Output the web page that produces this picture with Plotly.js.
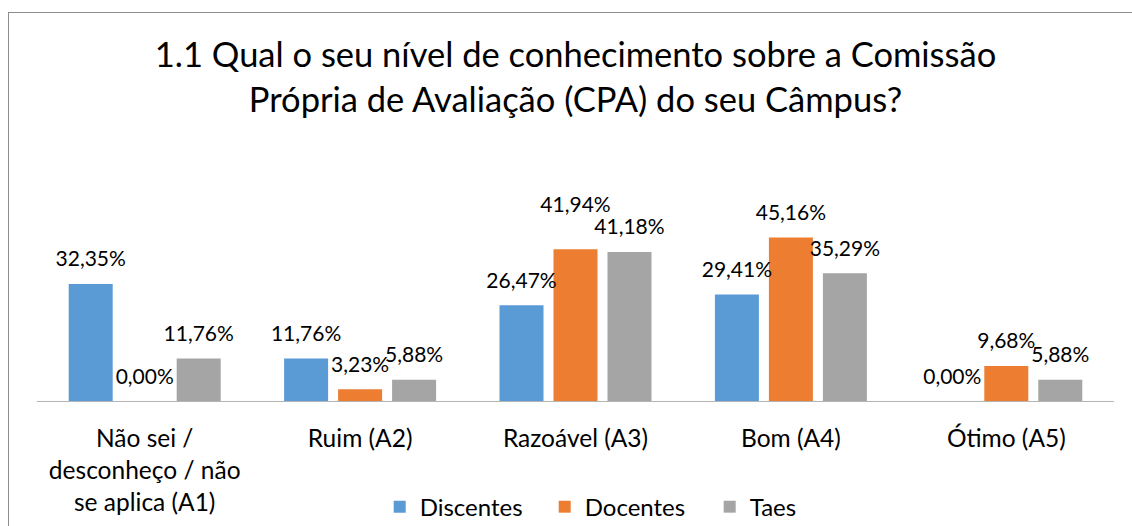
<!DOCTYPE html>
<html>
<head>
<meta charset="utf-8">
<script src="https://cdn.plot.ly/plotly-3.0.1.min.js"></script>
<style>
  html, body { margin: 0; padding: 0; background: #fff; }
  #wrap { position: relative; width: 1132px; height: 526px; overflow: hidden; }
  #chart { width: 1132px; height: 526px; }
  #frame { position: absolute; left: 8px; top: 12px; width: 1200px; height: 600px;
           border-left: 1px solid #8c8c8c; border-top: 1px solid #8c8c8c; pointer-events: none; }
</style>
</head>
<body>
<div id="wrap">
  <div id="chart"></div>
  <div id="frame"></div>
</div>
<script>
const categories = ["Não sei /<br>desconheço / não<br>se aplica (A1)", "Ruim (A2)", "Razoável (A3)", "Bom (A4)", "Ótimo (A5)"];
const seriesNames = ["Discentes", "Docentes", "Taes"];
const discentes = [32.35, 11.76, 26.47, 29.41, 0.00];
const docentes  = [0.00, 3.23, 41.94, 45.16, 9.68];
const taes      = [11.76, 5.88, 41.18, 35.29, 5.88];
const colors = ["#5b9bd5", "#ed7d31", "#a5a5a5"];

const values = [discentes, docentes, taes];
const FONT = "Lato, 'Open Sans', sans-serif";
const fmt = v => v.toFixed(2).replace('.', ',') + '%';

// label spacer size; raise a label when its right neighbour is nearly the same height (collision)
const BASE_SIZE = 18, BUMP_SIZE = 50;
function labelSizes(i) {
  return values[i].map((v, k) => {
    const nxt = values[i + 1];
    return (nxt && Math.abs(nxt[k] - v) < 1.5) ? BUMP_SIZE : BASE_SIZE;
  });
}

const data = [];
values.forEach((vals, i) => {
  data.push({
    type: 'bar', x: categories, y: vals, name: seriesNames[i],
    marker: { color: colors[i] }, hoverinfo: 'skip',
    offsetgroup: 'g' + i
  });
});
values.forEach((vals, i) => {
  data.push({
    type: 'scatter', mode: 'markers+text', x: categories, y: vals,
    text: vals.map(fmt), textposition: 'top center',
    textfont: { family: FONT, size: 21, color: '#000' },
    marker: { size: labelSizes(i), opacity: 0, color: colors[i] },
    showlegend: false, hoverinfo: 'skip', cliponaxis: false,
    offsetgroup: 'g' + i
  });
});

const layout = {
  width: 1132, height: 526,
  margin: { l: 37, r: 18, t: 220, b: 125, autoexpand: false },
  paper_bgcolor: '#fff', plot_bgcolor: '#fff',
  barmode: 'group', bargap: 0.248, bargroupgap: 0.185,
  scattermode: 'group', scattergap: 0.248,
  title: {
    text: "1.1 Qual o seu nível de conhecimento sobre a Comissão<br>Própria de Avaliação (CPA) do seu Câmpus?",
    font: { family: FONT, size: 34.5, color: '#000' },
    x: 0.5, xref: 'paper', y: 1 - 67 / 526, yref: 'container', yanchor: 'top'
  },
  xaxis: {
    type: 'category', showgrid: false, zeroline: false, automargin: false,
    showline: true, linecolor: '#b4b4b4', linewidth: 1,
    ticks: '', ticklabelstandoff: 16,
    tickfont: { family: FONT, size: 24.5, color: '#000' }
  },
  yaxis: { range: [0, 50], visible: false, showgrid: false, zeroline: false },
  showlegend: true,
  legend: {
    orientation: 'h', x: 0.548, xanchor: 'center', xref: 'paper',
    y: -0.586, yanchor: 'middle',
    font: { family: FONT, size: 24, color: '#000' },
    traceorder: 'normal', entrywidth: 120, entrywidthmode: 'pixels'
  },
  font: { family: FONT }
};

Plotly.newPlot('chart', data, layout, { staticPlot: true, displayModeBar: false });
</script>
</body>
</html>
